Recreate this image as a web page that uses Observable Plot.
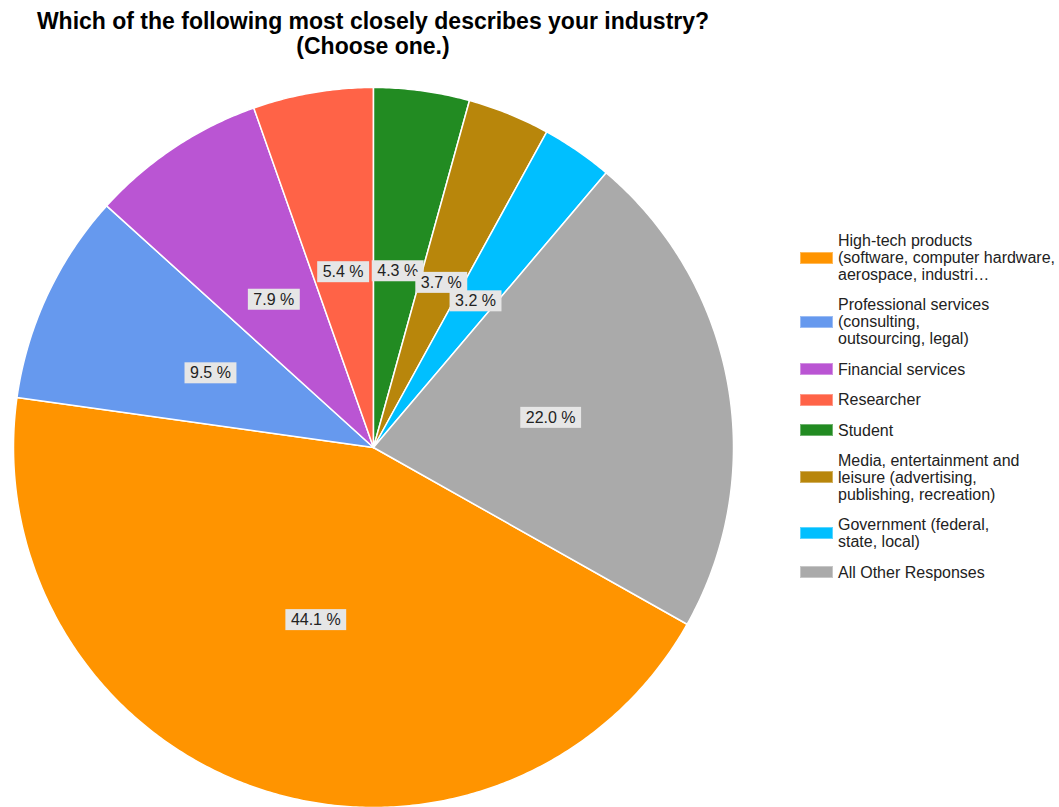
<!DOCTYPE html>
<html><head><meta charset="utf-8">
<script src="https://cdn.jsdelivr.net/npm/d3@7"></script>
<script src="https://cdn.jsdelivr.net/npm/@observablehq/plot@0.6"></script>
<style>
body{margin:0;background:#fff;font-family:Arial,"Liberation Sans",sans-serif;}
#wrap{position:relative;width:1059px;height:807px;overflow:hidden;}
#title{position:absolute;left:0;top:9px;width:746px;text-align:center;font-weight:bold;font-size:23px;line-height:25px;color:#000;}
#chart{position:absolute;left:0;top:87px;}
#legend{position:absolute;left:800px;top:232px;}
.item{display:flex;align-items:center;margin-bottom:13.4px;}
.sw{width:33px;height:12px;margin-right:5px;flex:none;box-sizing:border-box;border:1px solid rgba(255,255,255,0.35);}
.lt{font-size:16px;line-height:17px;color:#222;white-space:nowrap;}
</style>
</head><body>
<div id="wrap">
  <div id="title">Which of the following most closely describes your industry?<br>(Choose one.)</div>
  <div id="chart"></div>
  <div id="legend"></div>
</div>
<script>
const categories = [
  "High-tech products (software, computer hardware, aerospace, industri…",
  "Professional services (consulting, outsourcing, legal)",
  "Financial services",
  "Researcher",
  "Student",
  "Media, entertainment and leisure (advertising, publishing, recreation)",
  "Government (federal, state, local)",
  "All Other Responses"
];
const legendLines = [
  ["High-tech products", "(software, computer hardware,", "aerospace, industri…"],
  ["Professional services", "(consulting,", "outsourcing, legal)"],
  ["Financial services"],
  ["Researcher"],
  ["Student"],
  ["Media, entertainment and", "leisure (advertising,", "publishing, recreation)"],
  ["Government (federal,", "state, local)"],
  ["All Other Responses"]
];
const values = [44.1, 9.5, 7.9, 5.4, 4.3, 3.7, 3.2, 22.0];
const colors = ["#FF9400", "#6699EE", "#BA55D3", "#FF6347", "#228B22", "#B8860B", "#00BFFF", "#AAAAAA"];
const firstAtTop = "Student";

const total = d3.sum(values);
const startIdx = categories.indexOf(firstAtTop);
const offset = -d3.sum(values.slice(0, startIdx)) / total * 2 * Math.PI;
let acc = offset;
const slices = categories.map((c, i) => {
  const a0 = acc, a1 = acc + values[i] / total * 2 * Math.PI;
  acc = a1;
  return {cat: c, value: values[i], a0, a1};
});
const pts = [];
for (const s of slices) {
  pts.push({cat: s.cat, x: 0, y: 0});
  const n = Math.max(2, Math.ceil((s.a1 - s.a0) / (Math.PI / 360)));
  for (let k = 0; k <= n; k++) {
    const a = s.a0 + (s.a1 - s.a0) * k / n;
    pts.push({cat: s.cat, x: Math.sin(a), y: Math.cos(a)});
  }
  pts.push({cat: s.cat, x: 0, y: 0});
}
const labels = slices.map(s => {
  const m = (s.a0 + s.a1) / 2;
  return {cat: s.cat, x: 0.5 * Math.sin(m), y: 0.5 * Math.cos(m), text: s.value.toFixed(1) + " %"};
});

const chart = Plot.plot({
  width: 760, height: 720,
  marginLeft: 13, marginRight: 27, marginTop: 0, marginBottom: 0,
  x: {domain: [-1, 1], axis: null},
  y: {domain: [-1, 1], axis: null},
  color: {domain: categories, range: colors},
  style: {background: "transparent", overflow: "visible", fontFamily: "Arial, 'Liberation Sans', sans-serif"},
  marks: [
    Plot.line(pts, {x: "x", y: "y", z: "cat", fill: "cat", stroke: "white", strokeWidth: 1.5, strokeLinejoin: "round"}),
    Plot.text(labels, {x: "x", y: "y", text: "text", fill: "#222", fontSize: 16, dy: 2})
  ]
});
document.getElementById("chart").appendChild(chart);

// light boxes behind the percentage labels
const tg = d3.select(chart).selectAll('g[aria-label="text"]');
tg.selectAll("text").each(function() {
  const b = this.getBBox();
  d3.select(this.parentNode).insert("rect", () => this)
    .attr("x", b.x - 5.5).attr("y", b.y - 2).attr("width", b.width + 11).attr("height", b.height + 4)
    .attr("fill", "#e6e6e6").attr("transform", this.getAttribute("transform"));
});

const legend = d3.select("#legend");
categories.forEach((c, i) => {
  const it = legend.append("div").attr("class", "item");
  it.append("div").attr("class", "sw").style("background", colors[i]);
  it.append("div").attr("class", "lt").html(legendLines[i].join("<br>"));
});
</script>
</body></html>
